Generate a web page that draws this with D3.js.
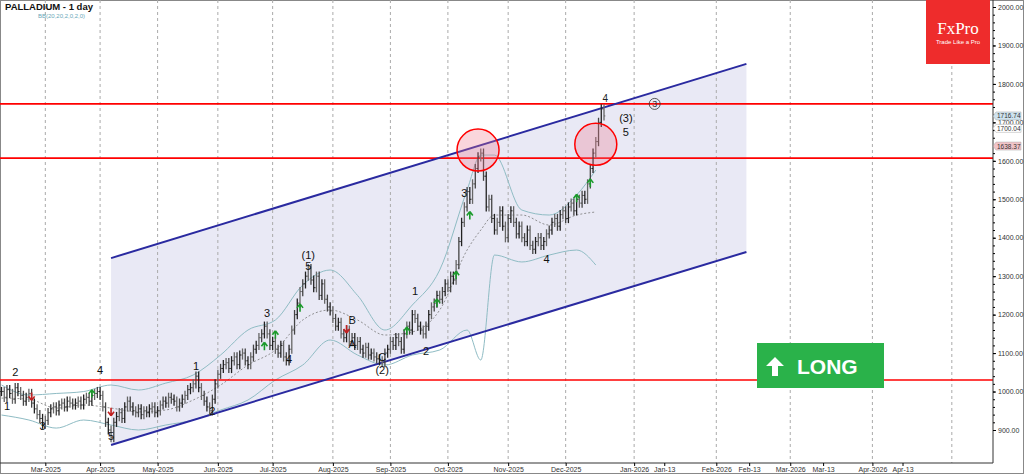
<!DOCTYPE html>
<html><head><meta charset="utf-8">
<script src="https://cdn.jsdelivr.net/npm/d3@7/dist/d3.min.js"></script>
<style>body{margin:0;background:#fff}svg{display:block;font-family:"Liberation Sans",Arial,sans-serif}</style>
</head><body><svg id="c" width="1024" height="474"></svg>
<script>
const closes=[1000,985,1005,995,980,1010,1000,990,975,985,995,
970,955,940,930,915,925,
945,955,960,950,965,970,960,975,970,
965,970,975,965,980,985,975,990,995,1000,990,
960,920,900,880,
920,935,945,930,960,975,
960,950,945,955,940,950,945,955,960,945,950,965,975,970,985,980,975,960,970,980,990,1005,
1010,1020,1040,1010,
990,975,960,950,980,
1020,1045,1060,1070,1075,1060,1080,1090,1070,1095,1100,1080,1070,
1090,1110,1120,1140,1150,1170,
1150,1120,1130,1110,1100,1120,1090,1080,
1110,1160,1200,1230,1260,1280,1300,1320,
1290,1270,1300,1250,1280,1240,1220,1210,
1190,1170,1180,1150,1140,1160,1130,
1140,1120,1130,1110,1100,1115,1095,1100,1090,1085,1080,1075,
1100,1110,1130,1120,1140,1130,1110,1150,1170,1160,1200,
1190,1170,1160,1150,
1170,1200,1220,1230,1250,1240,1260,1280,1270,1300,1290,1330,
1390,1440,1480,1520,1500,
1540,1580,1610,1620,1560,
1480,1500,1450,1420,1440,1470,1430,1400,
1450,1470,1440,1410,1430,1400,1390,1420,1380,1370,1390,1400,1380,1390,1410,
1420,1440,1450,1430,1460,1470,1450,1480,1490,1470,1500,1490,1510,1500,
1540,1580,1620,1650,1700,1735,1716.74];
const bbIdx=[0,10,20,30,40,50,60,70,80,90,100,110,120,130,140,150,160,170,175,180,190,200,210,217];
const bbMid=[983,980,957,965,957,947,952,978,1017,1069,1108,1186,1212,1186,1147,1155,1212,1368,1420,1459,1459,1433,1459,1467];
const bbUp=[1017,991,995,1000,1017,1004,1022,1043,1095,1160,1186,1277,1316,1250,1160,1225,1316,1524,1615,1615,1472,1459,1511,1576];
const bbLow=[939,926,905,926,913,900,913,926,952,978,1030,1069,1134,1095,1069,1095,1108,1160,1082,1355,1337,1355,1368,1329];
const tickIdx=[16,36,57,79,99,121,142,163,185,206,231,242,261,273,288,300,318,329];
const tickLabels=["Mar-2025","Apr-2025","May-2025","Jun-2025","Jul-2025","Aug-2025","Sep-2025","Oct-2025","Nov-2025","Dec-2025","Jan-2026","Jan-13","Feb-2026","Feb-13","Mar-2026","Mar-13","Apr-2026","Apr-13"];
const extraGrid=[347];
const priceTicks=[900,1000,1100,1200,1300,1400,1500,1600,1700,1800,1900,2000];
const hLines=[1748,1607,1030];
const channelUpper=[[40,1347],[272,1852]];
const channelLower=[[40,861],[272,1363]];
const circles=[[174,1628],[217,1643]];
const upArrows=[[33,992],[96,1115],[100,1145],[109,1215],[148,1155],[159,1228],[166,1300],[171,1455],[210,1500],[215,1540]];
const downArrows=[[11,990],[40,950],[126,1165]];
const waveLabels=[["2",5,1040],["1",2,952],["3",15,900],["4",36,1045],["5",40,875],["1",71,1055],["2",77,940],["3",97,1195],["4",105,1075],["(1)",112,1345],["5",112,1315],["B",128,1175],["A",128,1112],["C",139,1080],["(2)",139,1045],["1",151,1252],["2",155,1095],["3",169,1505],["4",199,1335],["(3)",228,1700],["5",228,1665]];
const lastTags=[["1716.74",1716.74,"#cfe3ef"],["1700.04",1700.04,"#ffffff"],["1638.37",1638.37,"#f2c4c8"]];

const svg=d3.select("#c");
const x=d3.scaleLinear().domain([0,362.4]).range([1.5,994]);
const y=d3.scaleLinear().domain([900,2000]).range([430,7]);
const plotR=993,plotB=463;
svg.append("rect").attr("x",0.5).attr("y",0.5).attr("width",1023).attr("height",473).attr("fill","#fff").attr("stroke","#888");
const g=svg.append("g");
g.append("path").attr("d",d3.line()([channelUpper[0],channelUpper[1],channelLower[1],channelLower[0]].map(d=>[x(d[0]),y(d[1])]))+"Z").attr("fill","#e9e9f5");
[...tickIdx.filter((d,i)=>!tickLabels[i].includes("-13")),...extraGrid].forEach(t=>g.append("line").attr("x1",x(t)).attr("x2",x(t)).attr("y1",0).attr("y2",plotB).attr("stroke","#aaa").attr("stroke-dasharray","3,3"));
const bl=d3.line().x((d,i)=>x(bbIdx[i])).y(d=>y(d)).curve(d3.curveMonotoneX);
g.append("path").attr("d",bl(bbUp)).attr("fill","none").attr("stroke","#8fbcc4");
g.append("path").attr("d",bl(bbLow)).attr("fill","none").attr("stroke","#8fbcc4");
g.append("path").attr("d",bl(bbMid)).attr("fill","none").attr("stroke","#777").attr("stroke-dasharray","2,2").attr("stroke-width",0.8);
hLines.forEach(h=>g.append("line").attr("x1",0).attr("x2",plotR).attr("y1",y(h)).attr("y2",y(h)).attr("stroke","#f00").attr("stroke-width",1.6));
[channelUpper,channelLower].forEach(c=>g.append("line").attr("x1",x(c[0][0])).attr("y1",y(c[0][1])).attr("x2",x(c[1][0])).attr("y2",y(c[1][1])).attr("stroke","#2a2aa0").attr("stroke-width",2));
closes.forEach((c,i)=>{const o=i?closes[i-1]:c;const hi=Math.max(o,c)+12,lo=Math.min(o,c)-12;const cx=x(i);
 const col=i%3==0?"#222":(i%3==1?"#666":"#444");
 g.append("line").attr("x1",cx).attr("x2",cx).attr("y1",y(hi)).attr("y2",y(lo)).attr("stroke",col).attr("stroke-width",1.3);
 g.append("line").attr("x1",cx-1.3).attr("x2",cx).attr("y1",y(o)).attr("y2",y(o)).attr("stroke",col);
 g.append("line").attr("x1",cx).attr("x2",cx+1.3).attr("y1",y(c)).attr("y2",y(c)).attr("stroke",col);});
circles.forEach(c=>g.append("circle").attr("cx",x(c[0])).attr("cy",y(c[1])).attr("r",21).attr("fill","rgba(240,120,140,0.3)").attr("stroke","#f00").attr("stroke-width",1.5));
upArrows.forEach(a=>{const cx=x(a[0]),cy=y(a[1]);g.append("path").attr("d",`M${cx},${cy-5}L${cx-3},${cy-1}M${cx},${cy-5}L${cx+3},${cy-1}M${cx},${cy-5}V${cy+3}`).attr("stroke","#1a9a2a").attr("stroke-width",1.6).attr("fill","none");});
downArrows.forEach(a=>{const cx=x(a[0]),cy=y(a[1]);g.append("path").attr("d",`M${cx},${cy+5}L${cx-3},${cy+1}M${cx},${cy+5}L${cx+3},${cy+1}M${cx},${cy+5}V${cy-3}`).attr("stroke","#c02020").attr("stroke-width",1.6).attr("fill","none");});
waveLabels.forEach(l=>g.append("text").attr("x",x(l[1])).attr("y",y(l[2])).attr("text-anchor","middle").attr("font-size",11).attr("fill","#111").text(l[0]));
g.append("circle").attr("cx",x(238.5)).attr("cy",y(1748)).attr("r",5.5).attr("fill","none").attr("stroke","#333").attr("stroke-width",0.8);
g.append("text").attr("x",x(238.5)).attr("y",y(1748)+3.5).attr("text-anchor","middle").attr("font-size",9).attr("fill","#333").text("3");
g.append("text").attr("x",x(220.5)).attr("y",y(1752)).attr("text-anchor","middle").attr("font-size",10).attr("fill","#222").text("4");
svg.append("line").attr("x1",plotR).attr("x2",plotR).attr("y1",0).attr("y2",plotB).attr("stroke","#333");
svg.append("line").attr("x1",0).attr("x2",plotR).attr("y1",plotB).attr("y2",plotB).attr("stroke","#333");
const ya=svg.append("g").attr("transform",`translate(${plotR},0)`).call(d3.axisRight(y).tickValues(priceTicks).tickFormat(d3.format(".2f")).tickSize(3).tickPadding(2));
ya.select(".domain").remove();ya.selectAll("text").attr("font-size",7).attr("fill","#333").attr("font-family","Liberation Sans, Arial");
const yb=svg.append("g").attr("transform",`translate(${plotR},0)`).call(d3.axisRight(y).ticks(55).tickFormat("").tickSize(2));
yb.select(".domain").remove();
const xa=svg.append("g").attr("transform",`translate(0,${plotB})`).call(d3.axisBottom(x).tickValues(tickIdx).tickFormat((d,i)=>tickLabels[i]).tickSize(3).tickPadding(1));
xa.select(".domain").remove();xa.selectAll("text").attr("font-size",7).attr("fill","#333").attr("font-family","Liberation Sans, Arial");
lastTags.forEach((t,i)=>{const yy=y(t[1])+(i==1?6:0);svg.append("path").attr("d",`M${plotR},${yy}l3,-4h25v8h-25z`).attr("fill",t[2]).attr("stroke","#aaa").attr("stroke-width",0.5);
 svg.append("text").attr("x",plotR+4).attr("y",yy+2.5).attr("font-size",6.5).attr("fill","#333").text(t[0]);});
svg.append("text").attr("x",5).attr("y",10).attr("font-size",9.5).attr("font-weight","bold").attr("fill","#111").text("PALLADIUM - 1 day");
svg.append("text").attr("x",38).attr("y",18).attr("font-size",6).attr("fill","#6aa8b8").text("BB(20,20,2,0,2,0)");
svg.append("rect").attr("x",926).attr("y",0).attr("width",64).attr("height",64).attr("fill","#ee2c2c");
svg.append("text").attr("x",958).attr("y",34).attr("text-anchor","middle").attr("font-family","Liberation Serif, serif").attr("font-size",17).attr("fill","#fff").text("FxPro");
svg.append("text").attr("x",958).attr("y",44).attr("text-anchor","middle").attr("font-size",6).attr("fill","#fff").text("Trade Like a Pro");
svg.append("rect").attr("x",757).attr("y",343).attr("width",127).attr("height",45).attr("fill","#2ab24a");
svg.append("path").attr("d","M775,357l-9,9h6v10h6v-10h6z").attr("fill","#fff");
svg.append("text").attr("x",797).attr("y",374).attr("font-size",21).attr("font-weight","bold").attr("fill","#fff").text("LONG");
</script></body></html>
